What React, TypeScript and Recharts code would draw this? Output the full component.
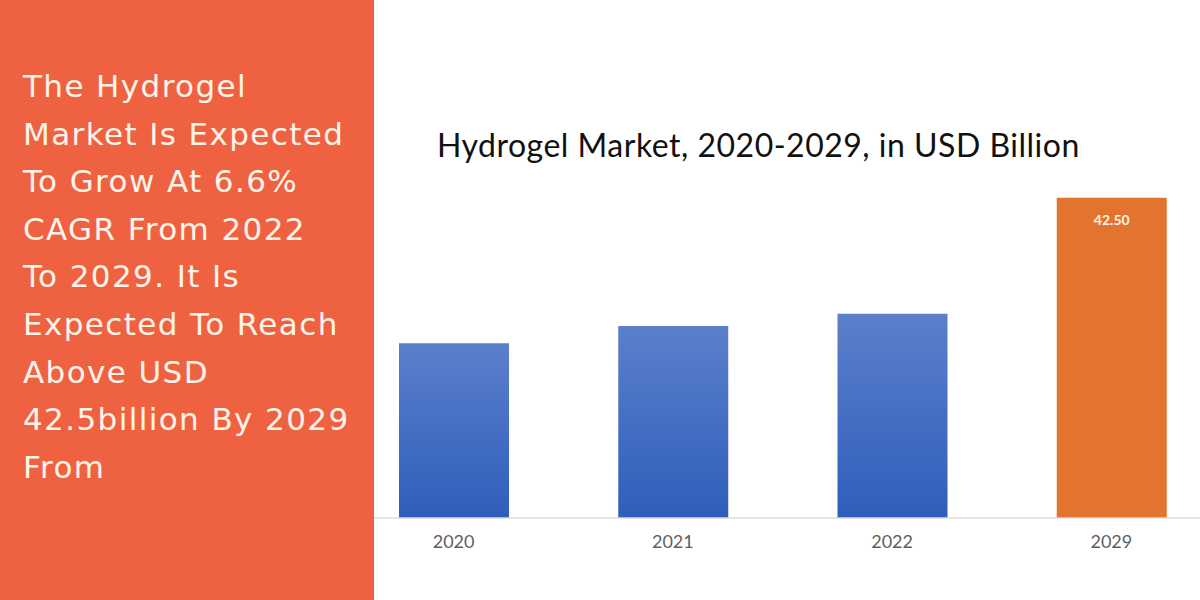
import React from "react";
import { BarChart, Bar, XAxis, YAxis, Cell, LabelList } from "recharts";

// Hydrogel market size by year, USD billion
const years = ["2020", "2021", "2022", "2029"];
const marketSize = [23.2, 25.5, 27.1, 42.5];
const isForecast = [false, false, false, true];

const chartTitle = "Hydrogel Market, 2020-2029, in USD Billion";
const headlineLines = [
  "The Hydrogel",
  "Market Is Expected",
  "To Grow At 6.6%",
  "CAGR From 2022",
  "To 2029. It Is",
  "Expected To Reach",
  "Above USD",
  "42.5billion By 2029",
  "From",
];

const data = years.map((year, i) => ({
  year,
  value: marketSize[i],
  forecast: isForecast[i],
}));

const PANEL_COLOR = "#EF6241";
const FORECAST_COLOR = "#E2742F";

const YearTick = (props: any) => {
  const { x, y, payload } = props;
  return (
    <text
      x={x}
      y={y}
      dy={30}
      textAnchor="middle"
      fill="#5f5f5f"
      fontSize={18}
      fontFamily="Lato, 'Noto Sans', sans-serif"
    >
      {payload.value}
    </text>
  );
};

const ValueLabel = (props: any) => {
  const { x, y, width, value, index } = props;
  if (!data[index]?.forecast) return null;
  return (
    <text
      x={x + width / 2}
      y={y + 27}
      textAnchor="middle"
      fill="#FFF6EA"
      fontSize={14}
      fontWeight={700}
      fontFamily="Lato, 'Noto Sans', sans-serif"
    >
      {Number(value).toFixed(2)}
    </text>
  );
};

export default function App() {
  return (
    <div
      style={{
        position: "absolute",
        left: 0,
        top: 0,
        width: 1200,
        height: 600,
        overflow: "hidden",
        background: "#ffffff",
      }}
    >
      <div style={{ position: "absolute", left: 0, top: 0 }}>
        <BarChart
          width={1222}
          height={600}
          data={data}
          margin={{ top: 179, right: 1, left: 344, bottom: 52 }}
        >
          <defs>
            <linearGradient id="blueBar" x1="0" y1="0" x2="0" y2="1">
              <stop offset="0%" stopColor="#5B7FCB" />
              <stop offset="100%" stopColor="#2F5EBB" />
            </linearGradient>
          </defs>
          <XAxis
            dataKey="year"
            height={30}
            axisLine={{ stroke: "#dcdcdc", strokeWidth: 1.5 }}
            tickLine={false}
            tickSize={0}
            tickMargin={0}
            tick={<YearTick />}
            interval={0}
          />
          <YAxis hide domain={[0, 45]} />
          <Bar dataKey="value" barSize={110} isAnimationActive={false}>
            {data.map((d) => (
              <Cell
                key={d.year}
                fill={d.forecast ? FORECAST_COLOR : "url(#blueBar)"}
              />
            ))}
            <LabelList dataKey="value" content={<ValueLabel />} />
          </Bar>
        </BarChart>
      </div>

      <svg
        width={1200}
        height={600}
        style={{ position: "absolute", left: 0, top: 0, pointerEvents: "none" }}
      >
        <rect x={0} y={0} width={374} height={600} fill={PANEL_COLOR} />
        {headlineLines.map((line, i) => (
          <text
            key={i}
            x={23}
            y={97 + i * 47.6}
            fill="#FFF4EA"
            fontSize={31}
            letterSpacing={1.4}
            fontFamily="'DejaVu Sans', sans-serif"
          >
            {line}
          </text>
        ))}
        <text
          x={437}
          y={157}
          fill="#111111"
          fontSize={32}
          letterSpacing={0.5}
          fontFamily="Lato, 'Noto Sans', sans-serif"
        >
          {chartTitle}
        </text>
      </svg>
    </div>
  );
}
